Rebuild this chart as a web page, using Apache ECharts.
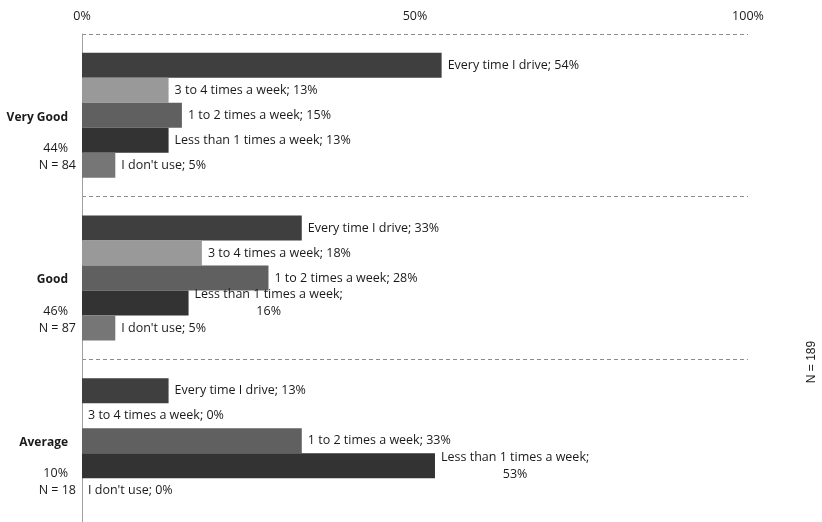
<!DOCTYPE html>
<html>
<head>
<meta charset="utf-8">
<script src="https://cdn.jsdelivr.net/npm/echarts@6/dist/echarts.min.js"></script>
<style>
  html, body { margin: 0; padding: 0; background: #ffffff; }
  #chart { width: 822px; height: 522px; }
</style>
</head>
<body>
<div id="chart"></div>
<script>
// Rating groups shown on the vertical axis
const categories = ['Very Good', 'Good', 'Average'];
const categoryShares = ['44%', '46%', '10%'];
const categoryCounts = [84, 87, 18];
const totalCount = 189;

// Usage frequency series (percent of each rating group)
const frequencyNames = ['Every time I drive', '3 to 4 times a week', '1 to 2 times a week', 'Less than 1 times a week', "I don't use"];
const everyTime = [54, 33, 13];
const threeToFour = [13, 18, 0];
const oneToTwo = [15, 28, 33];
const lessThanOne = [13, 16, 53];
const dontUse = [5, 5, 0];

// Percentage axis
const axisMin = 0;
const axisMax = 100;
const axisStep = 50;

const seriesValues = [everyTime, threeToFour, oneToTwo, lessThanOne, dontUse];
const barColors = ['#3f3f3f', '#999999', '#606060', '#333333', '#767676'];
const FONT = "'Open Sans', 'Liberation Sans', sans-serif";
const TEXT = '#1a1a1a';
const LABEL_SIZE = 12.5;

// Long labels of the "Less than 1" bars break onto two centred lines
const wrapGroups = ['Good', 'Average'];

function barLabel(p) {
  if (p.seriesIndex === 3 && wrapGroups.indexOf(p.name) >= 0) {
    return '{c|' + p.seriesName + ';}\n{c|' + p.value + '%}';
  }
  return '{t|' + p.seriesName + '; ' + p.value + '%}';
}

const chart = echarts.init(document.getElementById('chart'), null, { renderer: 'canvas' });

chart.setOption({
  backgroundColor: '#ffffff',
  animation: false,
  grid: { left: 82, right: 74, top: 34, bottom: 0, containLabel: false },
  xAxis: {
    type: 'value',
    position: 'top',
    min: axisMin,
    max: axisMax,
    interval: axisStep,
    axisLine: { show: false },
    axisTick: { show: false },
    splitLine: { show: false },
    axisLabel: {
      formatter: '{value}%',
      margin: 11,
      fontFamily: FONT,
      fontSize: LABEL_SIZE,
      color: TEXT
    }
  },
  yAxis: {
    type: 'category',
    inverse: true,
    data: categories,
    axisLine: { show: true, lineStyle: { color: '#a0a0a0', width: 1 } },
    axisTick: { show: false },
    splitLine: { show: true, lineStyle: { color: '#8c8c8c', type: [4, 3], width: 1 } },
    axisLabel: {
      margin: 6,
      align: 'right',
      verticalAlign: 'middle',
      padding: [52, 0, 0, 0],
      formatter: function (value, index) {
        return '{b|' + value + '}\n{s| }\n{p|' + categoryShares[index] + '}\n{n|N = ' + categoryCounts[index] + '}';
      },
      rich: {
        b: { fontFamily: FONT, fontSize: 12, fontWeight: 'bold', color: TEXT, lineHeight: 17, align: 'right', padding: [0, 8, 0, 0] },
        s: { fontSize: 6, lineHeight: 14 },
        p: { fontFamily: FONT, fontSize: LABEL_SIZE, color: TEXT, lineHeight: 17, align: 'right', padding: [0, 8, 0, 0] },
        n: { fontFamily: FONT, fontSize: LABEL_SIZE, color: TEXT, lineHeight: 17, align: 'right' }
      }
    }
  },
  series: frequencyNames.map(function (name, i) {
    return {
      name: name,
      type: 'bar',
      data: seriesValues[i],
      barWidth: 25,
      barGap: '0%',
      itemStyle: { color: barColors[i] },
      label: {
        show: true,
        position: 'right',
        distance: 6,
        formatter: barLabel,
        rich: {
          t: { fontFamily: FONT, fontSize: LABEL_SIZE, color: TEXT, lineHeight: 17 },
          c: { fontFamily: FONT, fontSize: LABEL_SIZE, color: TEXT, lineHeight: 17, align: 'center' }
        }
      }
    };
  }),
  graphic: [{
    type: 'text',
    x: 812,
    y: 362,
    rotation: Math.PI / 2,
    style: {
      text: 'N = ' + totalCount,
      fontFamily: "'Liberation Sans', Arial, sans-serif",
      fontSize: 12,
      fill: TEXT,
      align: 'center',
      verticalAlign: 'middle'
    }
  }]
});
</script>
</body>
</html>
